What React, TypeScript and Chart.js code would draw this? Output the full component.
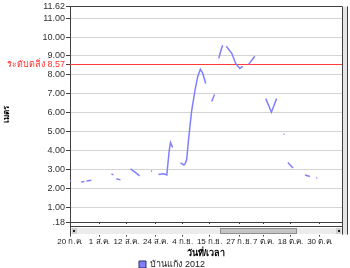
import React, { useEffect, useRef } from "react";
import { Chart, registerables } from "chart.js";

Chart.register(...registerables);

// days since 20 Jul 2012, water level (m); null = gap in the record
const days = [
  0, 0.5, 2, 4.6, 5.9, 6.3, 6.7, 8.7, 10, 16.9, 17.7, 18.3, 18.9, 20.6, 22,
  24.7, 26.5, 28.4, 30, 33.1, 33.5, 35, 36.1, 38.2, 39.5, 40.5, 41.0, 41.9, 43,
  45.1, 46.5, 47.0, 47.6, 48.4, 49.6, 50.9, 52.1, 53.2, 54.1, 55.4, 56.5,
  57.8, 59.0, 60, 60.7, 61.6, 62.3, 63, 63.8, 66.0, 67.6, 69.3, 70.5, 71.5,
  72.9, 75.4, 77, 79.9, 82.2, 84.3, 86, 87.1, 87.5, 88.2, 88.9, 91.0, 93,
  95.9, 97.9, 99, 100.5, 100.9,
];
const levels = [
  2.38, 2.4, null, 2.33, 2.35, null, 2.38, 2.42, null, 2.76, 2.7, null, 2.5, 2.44, null,
  3.02, 2.85, 2.65, null, 2.92, 2.9, null, 2.72, 2.76, 2.7, 4.0, 4.42, 4.15, null,
  3.34, 3.23, 3.3, 3.5, 4.6, 6.05, 7.1, 7.9, 8.29, 8.1, 7.54, null,
  6.59, 6.96, null, 8.87, 9.3, 9.56, null, 9.51, 9.14, 8.6, 8.34, 8.45, null,
  8.55, 8.98, null, 6.74, 6.02, 6.74, null, 4.85, 4.85, null, 3.36, 3.07, null,
  2.7, 2.62, null, 2.54, 2.54,
];

const xTickDays = [0, 12, 23, 35, 46, 57, 69, 79, 90, 102];
const xTickLabels = ["20 ก.ค.", "1 ส.ค.", "12 ส.ค.", "24 ส.ค.", "4 ก.ย.", "15 ก.ย.", "27 ก.ย.", "7 ต.ค.", "18 ต.ค.", "30 ต.ค."];
const yTicks = [0.18, 1, 2, 3, 4, 5, 6, 7, 8, 8.57, 9, 10, 11, 11.62];
const bankLevel = 8.57;
const bankLabel = "ระดับตลิ่ง";
const seriesName = "บ้านแก้ง 2012";
const xTitle = "วันที่/เวลา";
const yTitle = "เมตร";

const FONT = "Tahoma, 'Liberation Sans', 'DejaVu Sans', sans-serif";

const decor = {
  id: "decor",
  beforeDatasetsDraw(chart: any) {
    const { ctx, chartArea: a, scales } = chart;
    const y = Math.round(scales.y.getPixelForValue(bankLevel)) + 0.5;
    ctx.save();
    ctx.strokeStyle = "#ff3b3b";
    ctx.lineWidth = 1;
    ctx.beginPath();
    ctx.moveTo(a.left, y);
    ctx.lineTo(a.right, y);
    ctx.stroke();
    ctx.restore();
  },
  afterDraw(chart: any) {
    const { ctx, chartArea: a } = chart;
    ctx.save();
    ctx.strokeStyle = "#404040";
    ctx.lineWidth = 1;
    ctx.beginPath();
    ctx.moveTo(a.left, Math.round(a.top) + 0.5);
    ctx.lineTo(a.right, Math.round(a.top) + 0.5);
    ctx.stroke();
    // right scrollbar
    ctx.fillStyle = "#e6e6e6";
    ctx.fillRect(a.right, a.top, 5, a.bottom - a.top + 12);
    ctx.beginPath();
    ctx.moveTo(Math.round(a.right) + 0.5, a.top);
    ctx.lineTo(Math.round(a.right) + 0.5, a.bottom + 12);
    ctx.moveTo(Math.round(a.right) + 5.5, a.top);
    ctx.lineTo(Math.round(a.right) + 5.5, a.bottom + 12);
    ctx.stroke();
    // bottom scrollbar
    const b = Math.round(a.bottom);
    ctx.fillStyle = "#ffffff";
    ctx.fillRect(a.left + 1, b + 1, a.right - a.left - 1, 11);
    ctx.beginPath();
    ctx.moveTo(a.left, b + 3.5);
    ctx.lineTo(a.right, b + 3.5);
    ctx.stroke();
    ctx.fillStyle = "#ececec";
    ctx.fillRect(a.left + 1, b + 5, a.right - a.left - 1, 6);
    ctx.fillStyle = "#c4c4c4";
    ctx.fillRect(220, b + 5, 77, 6);
    ctx.strokeStyle = "#909090";
    ctx.strokeRect(220.5, b + 5.5, 76, 5);
    ctx.fillStyle = "#d0d0d0";
    ctx.fillRect(a.left + 2, b + 5, 5, 6);
    ctx.fillRect(a.right - 6, b + 5, 5, 6);
    ctx.fillStyle = "#202020";
    ctx.fillRect(a.left + 3, b + 7, 2, 2);
    ctx.fillRect(a.right - 4, b + 7, 2, 2);
    ctx.restore();
  },
};

export default function App() {
  const ref = useRef<HTMLCanvasElement | null>(null);
  useEffect(() => {
    if (!ref.current) return;
    const data = days.map((d, i) => ({ x: d, y: levels[i] }));
    const chart = new Chart(ref.current, {
      type: "line",
      data: {
        datasets: [
          {
            label: seriesName,
            data: data as any,
            borderColor: "#8080ff",
            backgroundColor: "#8080ff",
            borderWidth: 1.5,
            pointRadius: 0,
            spanGaps: false,
            tension: 0,
          },
        ],
      },
      plugins: [decor],
      options: {
        responsive: false,
        animation: false,
        layout: { padding: { left: 2, right: 8, top: 6, bottom: -11 } },
        plugins: {
          tooltip: { enabled: false },
          legend: {
            position: "bottom",
            labels: {
              boxWidth: 7,
              boxHeight: 7,
              padding: 1,
              color: "#202020",
              font: { family: FONT, size: 9 },
              generateLabels: (c: any) =>
                c.data.datasets.map((ds: any, i: number) => ({
                  text: ds.label,
                  fillStyle: "#8080ff",
                  strokeStyle: "#303060",
                  lineWidth: 1,
                  datasetIndex: i,
                  fontColor: "#202020",
                })),
            },
          },
        },
        scales: {
          x: {
            type: "linear",
            min: 0,
            max: 111,
            afterBuildTicks: (s: any) => {
              s.ticks = xTickDays.map((v) => ({ value: v }));
            },
            ticks: {
              autoSkip: false,
              maxRotation: 0,
              padding: 0,
              color: "#202020",
              font: { family: FONT, size: 8 },
              callback: (v: any) => {
                const i = xTickDays.indexOf(Number(v));
                return i >= 0 ? xTickLabels[i] : "";
              },
            },
            grid: {
              drawOnChartArea: false,
              tickLength: 14,
              color: "#404040",
            },
            border: { color: "#404040" },
            title: {
              display: true,
              text: xTitle,
              color: "#000",
              font: { family: FONT, size: 9, weight: "bold" },
              padding: { top: 2, bottom: 0 },
            },
          },
          y: {
            type: "linear",
            min: 0.18,
            max: 11.62,
            afterBuildTicks: (s: any) => {
              s.ticks = yTicks.map((v) => ({ value: v }));
            },
            afterFit: (s: any) => {
              s.width = 68;
            },
            ticks: {
              autoSkip: false,
              padding: 1,
              font: { family: FONT, size: 9 },
              color: (c: any) => (c.tick && c.tick.value === bankLevel ? "#ff3030" : "#303030"),
              callback: (v: any) => {
                const n = Number(v);
                if (n === bankLevel) return bankLabel + " " + n.toFixed(2);
                if (n === 0.18) return ".18";
                return n.toFixed(2);
              },
            },
            grid: {
              tickLength: 4,
              color: (c: any) => {
                const v = c.tick && c.tick.value;
                if (v === bankLevel) return "rgba(0,0,0,0)";
                if (v === 0.18 || v === 11.62) return "#404040";
                return "#d4d4d4";
              },
              tickColor: "#404040",
            },
            border: { color: "#404040" },
            title: {
              display: true,
              text: yTitle,
              color: "#000",
              font: { family: FONT, size: 8, weight: "bold" },
              padding: 0,
            },
          },
        },
      },
    });
    return () => chart.destroy();
  }, []);
  return (
    <div style={{ position: "fixed", left: 0, top: 0, width: 350, height: 268, background: "#fff" }}>
      <canvas ref={ref} width={350} height={268} />
    </div>
  );
}
